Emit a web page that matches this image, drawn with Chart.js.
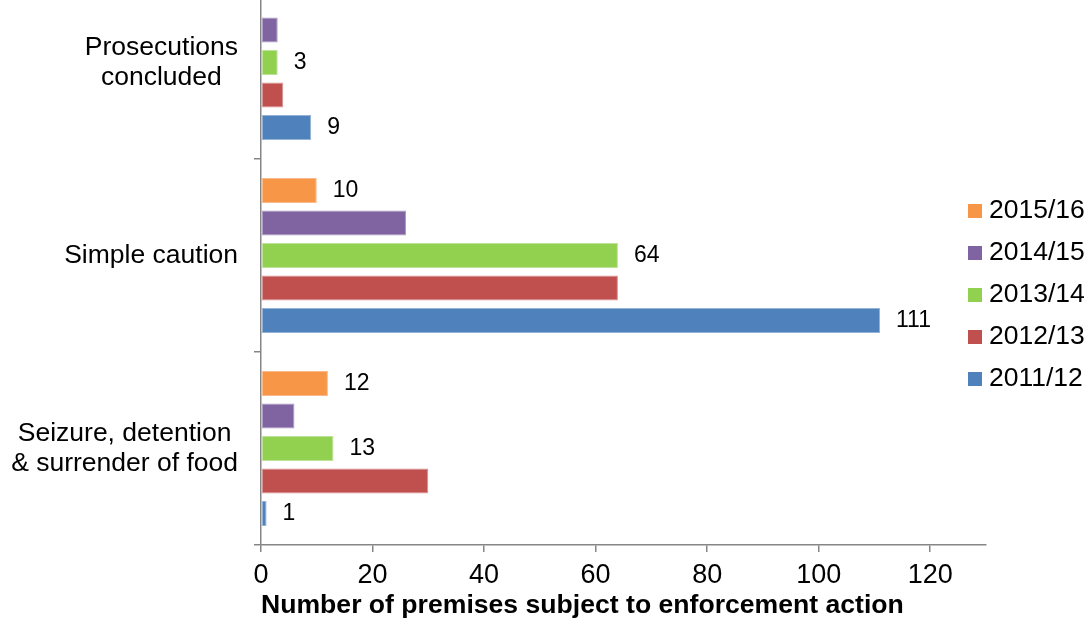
<!DOCTYPE html>
<html>
<head>
<meta charset="utf-8">
<script src="https://cdn.jsdelivr.net/npm/chart.js@4/dist/chart.umd.min.js"></script>
<style>
  html, body { margin: 0; padding: 0; background: #fff; overflow: hidden; }
  #wrap { position: relative; width: 1092px; height: 634px; overflow: hidden; }
  #myChart { position: absolute; left: 0; top: -50px; }
</style>
</head>
<body>
<div id="wrap">
  <canvas id="myChart" width="1092" height="684"></canvas>
</div>
<script>
// categories, top to bottom
const categories = [
  ['Prosecutions', 'concluded'],
  ['Simple caution'],
  ['Seizure, detention', '& surrender of food']
];

// series, top bar to bottom bar in each group
const seriesNames = ['2015/16', '2014/15', '2013/14', '2012/13', '2011/12'];
const values1516 = [null, 10, 12];
const values1415 = [3, 26, 6];
const values1314 = [3, 64, 13];
const values1213 = [4, 64, 30];
const values1112 = [9, 111, 1];
const seriesValues = [values1516, values1415, values1314, values1213, values1112];

// only these series carry value labels
const labelledSeries = ['2015/16', '2013/14', '2011/12'];

const xTickStep = 20;
const xMax = 130;
const xTitle = 'Number of premises subject to enforcement action';

const fills = ['#F79646', '#8064A2', '#92D050', '#C0504D', '#4F81BD'];
const edges = ['#FAB98A', '#AD9BC4', '#BCE39A', '#D99593', '#94B3D7'];
const axisGrey = '#868686';
const FONT = "'Liberation Sans', Arial, sans-serif";

const datasets = seriesNames.map((name, i) => ({
  label: name,
  data: seriesValues[i],
  backgroundColor: fills[i],
  borderColor: edges[i],
  borderWidth: 1,
  borderSkipped: false,
  categoryPercentage: 0.842,
  barPercentage: 0.77
}));

// category names: block right-aligned to the axis, lines centred in the block
const categoryLabels = {
  id: 'categoryLabels',
  afterDraw(chart) {
    const ctx = chart.ctx;
    const yScale = chart.scales.y;
    ctx.save();
    ctx.font = '26.5px ' + FONT;
    ctx.fillStyle = '#000';
    ctx.textAlign = 'center';
    ctx.textBaseline = 'middle';
    chart.data.labels.forEach((lab, i) => {
      const lines = Array.isArray(lab) ? lab : [lab];
      const w = Math.max(...lines.map(l => ctx.measureText(l).width));
      const cx = yScale.right - 23 - w / 2;
      const cy = yScale.getPixelForTick(i);
      lines.forEach((l, j) => {
        ctx.fillText(l, cx, cy + (j - (lines.length - 1) / 2) * 30);
      });
    });
    ctx.restore();
  }
};

// value labels just past the bar end
const valueLabels = {
  id: 'valueLabels',
  afterDatasetsDraw(chart) {
    const ctx = chart.ctx;
    ctx.save();
    ctx.font = '23px ' + FONT;
    ctx.fillStyle = '#000';
    ctx.textAlign = 'left';
    ctx.textBaseline = 'middle';
    chart.data.datasets.forEach((ds, di) => {
      if (!labelledSeries.includes(ds.label)) return;
      chart.getDatasetMeta(di).data.forEach((bar, i) => {
        const v = ds.data[i];
        if (v === null || v === undefined) return;
        ctx.fillText(String(v), bar.x + 16, bar.y);
      });
    });
    ctx.restore();
  }
};

// legend sitting over the empty right part of the plot
const sideLegend = {
  id: 'sideLegend',
  afterDraw(chart) {
    const ctx = chart.ctx;
    const area = chart.chartArea;
    const x = area.right - 18;
    const top = area.top + 245;
    ctx.save();
    ctx.font = '26.5px ' + FONT;
    ctx.textAlign = 'left';
    ctx.textBaseline = 'middle';
    chart.data.datasets.forEach((ds, i) => {
      const cy = top + i * 42;
      ctx.fillStyle = ds.backgroundColor;
      ctx.fillRect(x, cy - 7, 14, 14);
      ctx.fillStyle = '#000';
      ctx.fillText(ds.label, x + 21, cy);
    });
    ctx.restore();
  }
};

new Chart(document.getElementById('myChart'), {
  type: 'bar',
  data: { labels: categories, datasets },
  options: {
    indexAxis: 'y',
    responsive: false,
    animation: false,
    layout: { padding: { top: 16, left: 0, right: 106, bottom: 0 } },
    plugins: {
      legend: { display: false },
      tooltip: { enabled: false }
    },
    scales: {
      x: {
        type: 'linear',
        min: 0,
        max: xMax,
        afterFit: (scale) => { scale.height = 89; },
        ticks: {
          stepSize: xTickStep,
          includeBounds: false,
          padding: 7,
          color: '#000',
          font: { family: FONT, size: 27 }
        },
        grid: { drawOnChartArea: false, drawTicks: true, tickLength: 7, color: axisGrey, lineWidth: 1.5 },
        border: { color: axisGrey, width: 1.5 },
        title: {
          display: true,
          text: xTitle,
          align: 'start',
          color: '#000',
          font: { family: FONT, size: 26.6, weight: 'bold' },
          padding: { top: 0, bottom: 12 }
        }
      },
      y: {
        type: 'category',
        afterFit: (scale) => { scale.width = 261; },
        ticks: { display: false },
        grid: { offset: true, drawOnChartArea: false, drawTicks: true, tickLength: 7, color: axisGrey, lineWidth: 1.5 },
        border: { color: axisGrey, width: 1.5 }
      }
    }
  },
  plugins: [categoryLabels, valueLabels, sideLegend]
});
</script>
</body>
</html>
